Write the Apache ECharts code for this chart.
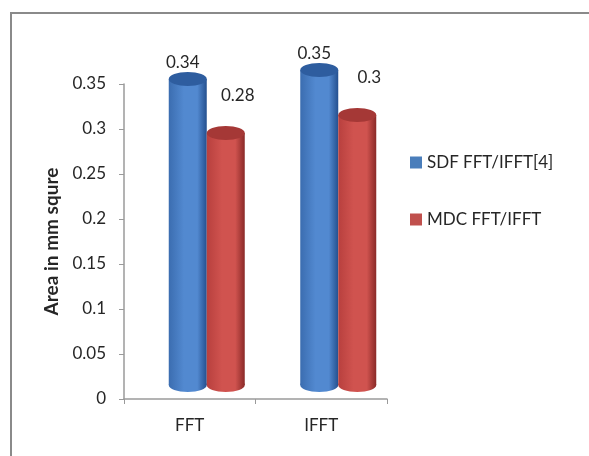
<!DOCTYPE html>
<html>
<head>
<meta charset="utf-8">
<script src="https://cdn.jsdelivr.net/npm/echarts@6/dist/echarts.min.js"></script>
<style>
  html, body { margin: 0; padding: 0; background: #ffffff; }
  #chart { width: 589px; height: 456px; }
</style>
</head>
<body>
<div id="chart"></div>
<script>
// Categories and series values
const categories = ['FFT', 'IFFT'];
const sdfValues = [0.34, 0.35];
const mdcValues = [0.28, 0.3];
const seriesNames = ['SDF FFT/IFFT[4]', 'MDC FFT/IFFT'];
const yTicks = { min: 0, max: 0.35, interval: 0.05 };

const FONT = 'Lato, "Open Sans", sans-serif';
const TEXT = '#262626';

// Cylinder look per series: [left edge, highlight, right edge, cap]
const palettes = [
  { edgeL: '#3b6db0', mid: '#5289d0', edgeR: '#24508f', cap: '#2e5d9f', legend: '#4a7ebb' },
  { edgeL: '#b8403e', mid: '#d0534f', edgeR: '#8a2a28', cap: '#a53836', legend: '#c0504d' }
];

// 3D depth offset of the bars relative to the axes plane
const DEPTH_X = 17;
const DEPTH_Y = -14;
const BAR_W = 38;
const CAP_RY = 7;
const labelOffsets = [[-5, -16], [12, -37]];

function makeRender(seriesIndex) {
  const pal = palettes[seriesIndex];
  return function (params, api) {
    const cat = api.value(0);
    const val = api.value(1);
    const top = api.coord([cat, val]);
    const base = api.coord([cat, 0]);
    const cx = top[0] + (seriesIndex - 0.5) * BAR_W + DEPTH_X;
    const topY = top[1] + DEPTH_Y;
    const baseY = base[1] + DEPTH_Y;
    const rx = BAR_W / 2;
    const grad = new echarts.graphic.LinearGradient(0, 0, 1, 0, [
      { offset: 0, color: pal.edgeL },
      { offset: 0.4, color: pal.mid },
      { offset: 0.75, color: pal.mid },
      { offset: 1, color: pal.edgeR }
    ]);
    const lo = labelOffsets[seriesIndex];
    return {
      type: 'group',
      children: [
        { type: 'ellipse', shape: { cx: cx, cy: baseY, rx: rx, ry: CAP_RY }, style: { fill: grad } },
        { type: 'rect', shape: { x: cx - rx, y: topY, width: BAR_W, height: baseY - topY }, style: { fill: grad } },
        { type: 'ellipse', shape: { cx: cx, cy: topY, rx: rx, ry: CAP_RY }, style: { fill: pal.cap } },
        {
          type: 'text',
          style: {
            x: cx + lo[0], y: topY + lo[1],
            text: String(val),
            fill: TEXT, font: '17px ' + FONT,
            align: 'center', verticalAlign: 'middle'
          }
        }
      ]
    };
  };
}

const chart = echarts.init(document.getElementById('chart'), null, { renderer: 'canvas' });

chart.setOption({
  backgroundColor: '#ffffff',
  animation: false,
  textStyle: { fontFamily: FONT },
  graphic: [{
    type: 'rect',
    shape: { x: 11, y: 13, width: 620, height: 480 },
    style: { fill: 'none', stroke: '#8a8a8a', lineWidth: 2 },
    z: -10
  }],
  grid: { left: 124, right: 202, top: 84, bottom: 57 },
  legend: {
    orient: 'vertical',
    left: 405, top: 149,
    itemWidth: 12, itemHeight: 12, itemGap: 40,
    icon: 'rect',
    textStyle: { fontSize: 17, color: TEXT, fontFamily: FONT },
    data: seriesNames
  },
  xAxis: {
    type: 'category',
    data: categories,
    boundaryGap: true,
    axisLine: { lineStyle: { color: '#9a9a9a', width: 1.5 } },
    axisTick: { show: true, length: 5, alignWithLabel: false, lineStyle: { color: '#9a9a9a' } },
    axisLabel: { fontSize: 17, color: TEXT, margin: 18, fontFamily: FONT }
  },
  yAxis: {
    type: 'value',
    min: yTicks.min, max: yTicks.max, interval: yTicks.interval,
    name: 'Area in mm squre',
    nameLocation: 'middle',
    nameRotate: 90,
    nameGap: 63,
    nameTextStyle: { fontSize: 19, fontWeight: 'bold', color: TEXT, fontFamily: FONT },
    splitLine: { show: false },
    axisLine: { show: true, lineStyle: { color: '#9a9a9a', width: 1.5 } },
    axisTick: { show: true, length: 5, lineStyle: { color: '#9a9a9a' } },
    axisLabel: { fontSize: 17, color: TEXT, margin: 18, fontFamily: FONT }
  },
  series: [
    {
      name: seriesNames[0], type: 'custom',
      itemStyle: { color: palettes[0].legend },
      renderItem: makeRender(0),
      data: sdfValues.map((v, i) => [i, v])
    },
    {
      name: seriesNames[1], type: 'custom',
      itemStyle: { color: palettes[1].legend },
      renderItem: makeRender(1),
      data: mdcValues.map((v, i) => [i, v])
    }
  ]
});
</script>
</body>
</html>
